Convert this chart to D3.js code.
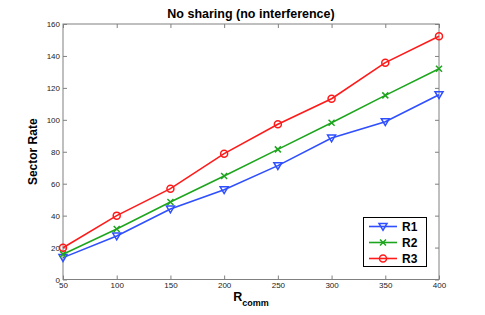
<!DOCTYPE html>
<html><head><meta charset="utf-8">
<script src="https://cdn.jsdelivr.net/npm/d3@7"></script>
<style>body{margin:0;background:#fff;} svg{display:block;font-family:"Liberation Sans",Arial,sans-serif;}</style>
</head><body>
<script>
const xValues = [50,100,150,200,250,300,350,400];
const r1 = [13.7,27.2,44.1,56.2,71.3,88.6,98.8,115.7];
const r2 = [15.8,31.6,48.5,64.8,81.5,98.2,115.3,132.0];
const r3 = [19.9,40.0,56.9,78.8,97.2,113.2,135.8,152.3];
const xTicks = [50,100,150,200,250,300,350,400];
const yTicks = [0,20,40,60,80,100,120,140,160];
const seriesNames = ["R1","R2","R3"];

const W=485,H=315;
const svg=d3.select("body").append("svg").attr("width",W).attr("height",H);
const L=63,R=439,T=24,B=279.5;
const x=d3.scaleLinear().domain([50,400]).range([L,R]);
const y=d3.scaleLinear().domain([0,160]).range([B,T]);
const axisCol="#808080";

svg.append("rect").attr("x",L).attr("y",T).attr("width",R-L).attr("height",B-T).attr("fill","none").attr("stroke",axisCol).attr("stroke-width",1);

const tk=4;
const gx=svg.append("g").attr("transform",`translate(0,${B})`).call(d3.axisBottom(x).tickValues(xTicks).tickSize(-tk).tickPadding(3));
const gxt=svg.append("g").attr("transform",`translate(0,${T})`).call(d3.axisTop(x).tickValues(xTicks).tickSize(-tk).tickFormat(""));
const gy=svg.append("g").attr("transform",`translate(${L},0)`).call(d3.axisLeft(y).tickValues(yTicks).tickSize(-tk).tickPadding(3));
const gyr=svg.append("g").attr("transform",`translate(${R},0)`).call(d3.axisRight(y).tickValues(yTicks).tickSize(-tk).tickFormat(""));
[gx,gxt,gy,gyr].forEach(g=>{g.select(".domain").remove();g.selectAll("line").attr("stroke",axisCol);g.selectAll("text").attr("fill","#222").style("font-size","8px").style("font-family","'Liberation Sans',Arial,sans-serif");});

const data=[{name:seriesNames[0],vals:r1,color:"#2f4fff",marker:"tri"},
            {name:seriesNames[1],vals:r2,color:"#1ea51e",marker:"x"},
            {name:seriesNames[2],vals:r3,color:"#ff1a1a",marker:"circle"}];
const line=d3.line().x((d,i)=>x(xValues[i])).y(d=>y(d));

function drawMarker(g,type,cx,cy,color){
  if(type==="tri"){
    const s=4;
    g.append("path").attr("d",`M${cx-s},${cy-s*0.75}L${cx+s},${cy-s*0.75}L${cx},${cy+s*0.95}Z`).attr("fill","none").attr("stroke",color).attr("stroke-width",1.5);
  } else if(type==="x"){
    const s=3;
    g.append("path").attr("d",`M${cx-s},${cy-s}L${cx+s},${cy+s}M${cx-s},${cy+s}L${cx+s},${cy-s}`).attr("stroke",color).attr("stroke-width",1.5);
  } else {
    g.append("circle").attr("cx",cx).attr("cy",cy).attr("r",3.5).attr("fill","none").attr("stroke",color).attr("stroke-width",1.5);
  }
}

data.forEach(s=>{
  svg.append("path").datum(s.vals).attr("d",line).attr("fill","none").attr("stroke",s.color).attr("stroke-width",1.6);
  const g=svg.append("g");
  s.vals.forEach((v,i)=>drawMarker(g,s.marker,x(xValues[i]),y(v),s.color));
});

const lg=svg.append("g");
lg.append("rect").attr("x",363.5).attr("y",217.5).attr("width",63).attr("height",49).attr("fill","#fff").attr("stroke","#000").attr("stroke-width",1);
data.forEach((s,i)=>{
  const ly=226.5+i*16;
  lg.append("line").attr("x1",369).attr("x2",397).attr("y1",ly).attr("y2",ly).attr("stroke",s.color).attr("stroke-width",1.6);
  drawMarker(lg,s.marker,383,ly,s.color);
  lg.append("text").attr("x",402).attr("y",ly+4.5).text(s.name).style("font-size","12px").style("font-weight","bold").attr("fill","#000");
});

svg.append("text").attr("x",251).attr("y",18).attr("text-anchor","middle").text("No sharing (no interference)").style("font-size","12.5px").style("font-weight","bold");
svg.append("text").attr("transform",`translate(37,${(T+B)/2}) rotate(-90)`).attr("text-anchor","middle").text("Sector Rate").style("font-size","12px").style("font-weight","bold");
const xl=svg.append("text").attr("x",251).attr("y",301).attr("text-anchor","middle").style("font-weight","bold");
xl.append("tspan").text("R").style("font-size","12.5px");
xl.append("tspan").text("comm").attr("dy",5).style("font-size","9px");
</script>
</body></html>
